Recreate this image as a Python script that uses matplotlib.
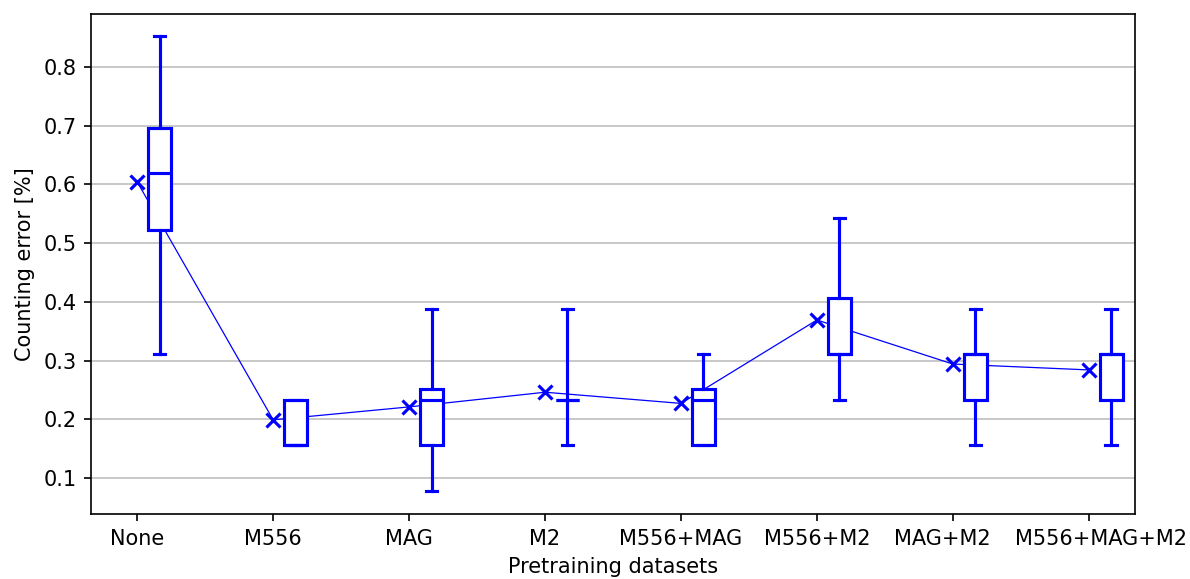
import matplotlib
matplotlib.use("Agg")
import matplotlib.pyplot as plt
import matplotlib.transforms as mtransforms
import numpy as np

datasets = ["None", "M556", "MAG", "M2", "M556+MAG", "M556+M2", "MAG+M2", "M556+MAG+M2"]

# box statistics per pretraining setting
whisker_low = [0.311, 0.156, 0.078, 0.156, 0.156, 0.233, 0.156, 0.156]
q1 = [0.522, 0.156, 0.156, 0.233, 0.156, 0.311, 0.233, 0.233]
median = [0.620, 0.156, 0.233, 0.233, 0.233, 0.311, 0.311, 0.311]
q3 = [0.696, 0.233, 0.252, 0.233, 0.252, 0.407, 0.311, 0.311]
whisker_high = [0.853, 0.233, 0.388, 0.388, 0.311, 0.543, 0.388, 0.388]
mean = [0.604, 0.199, 0.221, 0.246, 0.227, 0.369, 0.294, 0.284]

color = "#0000ff"
x = np.arange(len(datasets))
box_offset = 0.165
box_width = 0.17

fig = plt.figure(figsize=(1190 / 150, 579 / 150), dpi=150)
ax = fig.add_axes([0.0765, 0.1123, 0.9538 - 0.0765, 0.9758 - 0.1123])

stats = [
    dict(whislo=lo, q1=a, med=m, q3=b, whishi=hi, fliers=[])
    for lo, a, m, b, hi in zip(whisker_low, q1, median, q3, whisker_high)
]

ax.plot(x, mean, color=color, lw=0.6, marker="x", markersize=7,
        markeredgewidth=1.5, zorder=2)

ax.bxp(stats, positions=x + box_offset, widths=box_width, patch_artist=True,
       showfliers=False, manage_ticks=False,
       boxprops=dict(facecolor="white", edgecolor=color, linewidth=1.5),
       medianprops=dict(color=color, linewidth=1.5),
       whiskerprops=dict(color=color, linewidth=1.5),
       capprops=dict(color=color, linewidth=1.5),
       zorder=3)

ax.set_xticks(x)
ax.set_xticklabels(datasets)
ax.set_xlim(-0.34, 7.34)
ax.set_ylim(0.0387, 0.890)
ax.set_yticks([0.1, 0.2, 0.3, 0.4, 0.5, 0.6, 0.7, 0.8])
ax.yaxis.grid(True, color="#bfbfbf", linewidth=0.8)
ax.set_axisbelow(True)
ax.set_xlabel("Pretraining datasets")
ax.set_ylabel("Counting error [%]")

# spread the two rightmost labels apart so they don't touch
labels = ax.get_xticklabels()
for lbl, dx in ((labels[-2], -11), (labels[-1], 12)):
    lbl.set_transform(lbl.get_transform() +
                      mtransforms.ScaledTranslation(dx / 150, 0, fig.dpi_scale_trans))

fig.savefig("out.png", dpi=150)
